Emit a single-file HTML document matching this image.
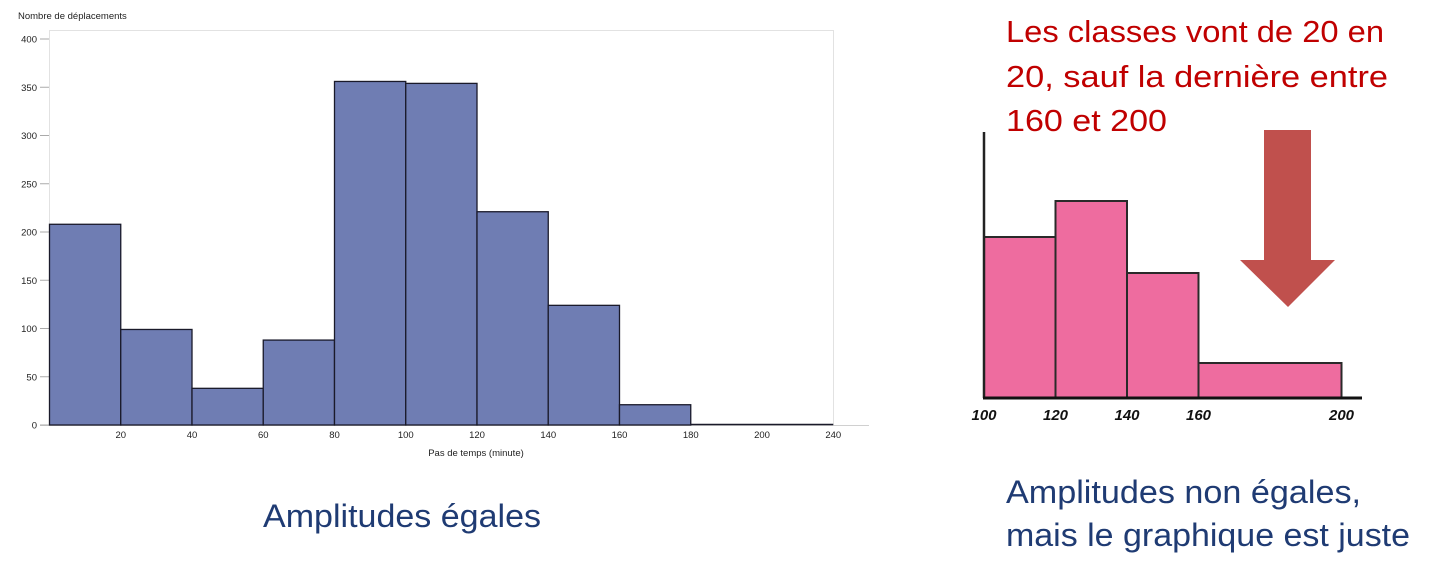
<!DOCTYPE html>
<html><head><meta charset="utf-8"><style>
body{margin:0;background:#fff;}
svg{display:block;}
text{font-family:"Liberation Sans",sans-serif;}
</style></head><body>
<svg id="s" width="1442" height="566" viewBox="0 0 1442 566">
<g id="left">
<rect x="49.5" y="30.5" width="784" height="395" fill="none" stroke="#e2e2e2"/>
<text x="18" y="19" font-size="9.5" fill="#222">Nombre de déplacements</text>
<text x="476" y="456" font-size="9.5" fill="#222" text-anchor="middle">Pas de temps (minute)</text>
</g>
<g id="right"></g>
<text x="1006" y="42" font-size="31" fill="#c00000" textLength="378" lengthAdjust="spacingAndGlyphs">Les classes vont de 20 en</text>
<text x="1006" y="87" font-size="31" fill="#c00000" textLength="382" lengthAdjust="spacingAndGlyphs">20, sauf la dernière entre</text>
<text x="1006" y="131" font-size="31" fill="#c00000" textLength="161" lengthAdjust="spacingAndGlyphs">160 et 200</text>
<g>
<rect x="1264" y="130" width="47" height="131" fill="#c0504d"/>
<polygon points="1240,260 1335,260 1288,307" fill="#c0504d"/>
</g>
<text x="263" y="527" font-size="32" fill="#1f3b73" textLength="278" lengthAdjust="spacingAndGlyphs">Amplitudes égales</text>
<text x="1006" y="503" font-size="32" fill="#1f3b73" textLength="355" lengthAdjust="spacingAndGlyphs">Amplitudes non égales,</text>
<text x="1006" y="546" font-size="32" fill="#1f3b73" textLength="404" lengthAdjust="spacingAndGlyphs">mais le graphique est juste</text>
</svg>
<script>
// Left histogram data
const binStarts = [0,20,40,60,80,100,120,140,160,180,200];
const binCounts = [208,99,38,88,356,354,221,124,21,0,0];
const yTicks = [0,50,100,150,200,250,300,350,400];
const xTickLabels = ["20","40","60","80","100","120","140","160","180","200","240"];
// Right histogram data
const rBinEdges = [100,120,140,160,200];
const rHeights = [161,197,125,35];
const rTickLabels = ["100","120","140","160","200"];

const NS="http://www.w3.org/2000/svg";
function mk(tag,attrs,parent,txt){const e=document.createElementNS(NS,tag);for(const k in attrs)e.setAttribute(k,attrs[k]);if(txt!==undefined)e.textContent=txt;parent.appendChild(e);return e;}
const L=document.getElementById('left');
const x0=49.5, pxPer20=71.25, yBase=425, pxPerUnit=386/400;
const xs=v=>x0+v/20*pxPer20;
const ys=v=>yBase-v*pxPerUnit;
const ax=mk('line',{x1:40,x2:869,y1:yBase+0.5,y2:yBase+0.5,stroke:'#d0d0d0'},L);


yTicks.forEach(t=>{
  const tk=mk('line',{x1:40,x2:49,y1:ys(t),y2:ys(t),stroke:'#aaa'},L);
  
  
  const lb=mk('text',{x:37,y:ys(t)+3.5,'font-size':9.5,'text-anchor':'end',fill:'#222'},L,String(t));
  
  
});
binStarts.forEach((b,i)=>{
  const h=binCounts[i]*pxPerUnit;
  if(h>0){
    const r=mk('rect',{x:xs(b),y:yBase-h,width:pxPer20,height:h,fill:'#6f7db3',stroke:'#1a1a2a','stroke-width':1.3},L);
    
    
  } else {
    const r=mk('line',{x1:xs(b),x2:xs(b)+pxPer20,y1:yBase-0.5,y2:yBase-0.5,stroke:'#1a1a2a','stroke-width':1.5},L);
    
    
  }
});
xTickLabels.forEach((l,i)=>{
  const t=mk('text',{x:xs((i+1)*20),y:438,'font-size':9.5,'text-anchor':'middle',fill:'#222'},L,l);
  
  
});
// Right histogram
const R=document.getElementById('right');
const rx0=984, rPer20=71.5, rBase=398;
const rxs=v=>rx0+(v-100)/20*rPer20;
for(let i=0;i<rHeights.length;i++){
  const r=mk('rect',{x:rxs(rBinEdges[i]),y:rBase-rHeights[i],width:rxs(rBinEdges[i+1])-rxs(rBinEdges[i]),height:rHeights[i],fill:'#ee6c9f',stroke:'#2a2a2a','stroke-width':2},R);
  
  
}
const va=mk('line',{x1:rx0,x2:rx0,y1:132,y2:rBase,stroke:'#222','stroke-width':2.5},R);


const ha=mk('line',{x1:rx0-1,x2:1362,y1:rBase,y2:rBase,stroke:'#111','stroke-width':3},R);


rTickLabels.forEach((l,i)=>{
  const t=mk('text',{x:rxs(rBinEdges[i]),y:420,'font-size':15,'font-style':'italic','font-weight':'bold','text-anchor':'middle',fill:'#111'},R,l);
  
  
});
</script>
</body></html>
